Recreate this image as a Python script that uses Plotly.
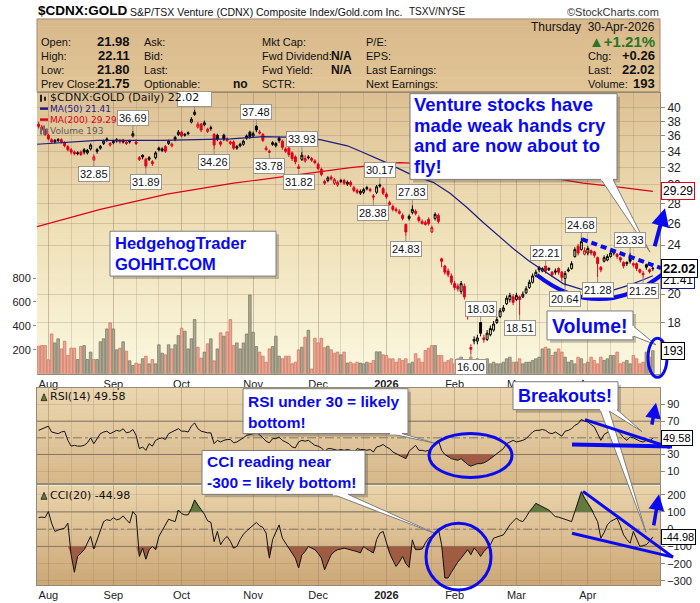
import math
import numpy as np
import plotly.graph_objects as go

W, H = 700, 603

# ---------------------------------------------------------------- data
month_pos = [3, 23, 44, 66, 86, 107, 128, 147, 169]
month_txt = ["Aug", "Sep", "Oct", "Nov", "Dec", "<b>2026</b>", "Feb", "Mar", "Apr"]
minor_pos = [10, 17, 30, 37, 51, 58, 73, 80, 93, 100, 114, 121, 135, 142, 154, 161, 176, 183]

opens = [
    37.6, 37.2, 36.8, 36.1, 35.5, 35.2, 35.4, 35.5, 35.1, 34.6,
    34.2, 33.9, 33.7, 33.9, 34.2, 33.8, 34.3, 32.9, 34.2, 34.4,
    35.0, 35.4, 34.8, 35.1, 35.3, 35.4, 35.2, 35.2, 35.2, 36.0,
    35.2, 33.2, 33.5, 33.0, 33.0, 32.7, 33.2, 34.4, 34.1, 34.6,
    35.0, 34.7, 35.5, 36.2, 36.5, 36.2, 36.3, 37.9, 39.0, 37.2,
    37.6, 37.5, 36.6, 37.0, 36.2, 36.1, 35.2, 36.1, 35.6, 35.0,
    35.2, 34.4, 34.7, 34.9, 36.0, 36.5, 36.0, 37.3, 36.5, 36.2,
    34.2, 34.0, 35.1, 34.7, 35.7, 35.3, 34.3, 34.4, 33.8, 33.3,
    31.9, 33.0, 32.8, 33.3, 33.1, 32.8, 32.4, 31.8, 30.4, 30.5,
    30.9, 30.2, 30.0, 30.5, 30.5, 30.1, 30.3, 29.7, 29.4, 29.1,
    29.2, 29.7, 29.5, 28.8, 29.2, 30.0, 29.6, 29.0, 27.9, 27.7,
    27.4, 27.0, 26.8, 25.9, 26.5, 27.1, 27.2, 26.6, 26.0, 25.9,
    26.4, 25.2, 26.5, 26.8, 22.8, 22.2, 21.8, 21.4, 20.8, 20.6,
    20.2, 20.6, 18.8, 16.4, 16.8, 16.8, 18.0, 17.0, 16.9, 17.2,
    17.5, 18.0, 18.4, 18.8, 19.3, 19.6, 19.8, 19.6, 19.8, 19.8,
    20.1, 20.5, 20.9, 21.4, 22.1, 21.8, 22.2, 21.9, 21.7, 21.7,
    22.0, 21.7, 21.2, 21.8, 22.0, 23.0, 23.9, 23.6, 23.2, 23.3,
    23.5, 23.4, 22.9, 22.1, 22.6, 22.7, 23.0, 23.3, 23.2, 22.9,
    22.5, 22.5, 23.1, 22.4, 22.4, 21.9, 21.5, 22.3, 21.9, 21.98,
]
highs = [
    37.9, 37.5, 37.0, 36.3, 35.7, 35.6, 35.7, 35.7, 35.3, 34.8,
    34.4, 34.1, 34.0, 34.1, 34.4, 34.3, 35.0, 33.6, 34.4, 34.8,
    35.5, 35.8, 35.2, 35.5, 35.7, 35.6, 35.6, 35.4, 35.5, 36.69,
    35.5, 33.4, 33.6, 33.2, 33.4, 32.9, 34.0, 34.6, 34.5, 34.8,
    35.5, 35.1, 36.0, 36.8, 36.7, 36.4, 36.6, 38.6, 39.7, 37.9,
    37.8, 38.1, 37.1, 37.4, 36.4, 36.3, 35.4, 36.3, 35.8, 35.4,
    35.4, 34.8, 35.1, 35.5, 36.2, 36.7, 36.6, 37.48, 36.8, 36.4,
    34.7, 34.2, 35.3, 35.2, 35.9, 35.5, 34.5, 34.6, 34.0, 33.5,
    32.4, 33.93, 33.5, 33.5, 33.3, 33.0, 32.6, 32.0, 30.6, 31.0,
    31.1, 30.8, 30.5, 30.7, 30.7, 30.5, 30.5, 29.9, 29.6, 29.5,
    29.7, 29.9, 29.7, 29.0, 30.0, 30.17, 29.8, 29.2, 28.3, 27.9,
    27.6, 27.4, 27.0, 26.0, 26.9, 27.83, 27.4, 26.8, 26.4, 26.3,
    26.6, 25.8, 27.1, 27.0, 22.9, 22.3, 22.0, 21.6, 21.0, 20.8,
    21.0, 20.8, 19.0, 16.6, 17.1, 17.2, 18.03, 17.2, 17.5, 17.8,
    18.1, 18.4, 19.0, 19.2, 19.9, 20.1, 20.0, 20.1, 19.9, 20.2,
    20.6, 21.1, 21.6, 21.9, 22.2, 22.1, 22.21, 22.1, 21.8, 22.0,
    22.1, 21.8, 21.8, 22.1, 22.6, 23.8, 24.1, 24.68, 23.8, 23.9,
    23.6, 23.5, 23.0, 22.2, 23.1, 23.2, 23.5, 23.6, 23.3, 23.0,
    22.6, 22.6, 23.33, 22.5, 22.5, 22.0, 21.8, 22.4, 22.0, 22.11,
]
lows = [
    37.0, 36.7, 36.0, 35.4, 35.0, 35.0, 35.2, 35.0, 34.5, 34.0,
    33.6, 33.5, 33.5, 33.4, 33.6, 33.6, 34.1, 32.85, 33.7, 34.2,
    34.8, 35.2, 34.6, 34.9, 35.1, 35.0, 35.0, 34.8, 35.0, 35.8,
    34.8, 32.8, 33.0, 31.89, 32.8, 32.2, 33.0, 34.0, 33.9, 33.8,
    34.8, 34.5, 35.3, 36.0, 35.8, 35.9, 36.1, 37.7, 38.8, 37.0,
    36.5, 37.3, 36.4, 36.7, 34.26, 35.3, 34.6, 35.3, 35.2, 34.8,
    34.2, 34.2, 34.5, 34.7, 35.5, 35.6, 35.8, 36.5, 36.2, 35.2,
    34.1, 33.78, 34.7, 34.5, 35.1, 34.2, 33.8, 33.3, 32.8, 32.4,
    31.82, 32.8, 32.6, 33.0, 32.7, 32.4, 31.7, 31.0, 30.0, 30.3,
    30.5, 30.0, 29.8, 30.2, 30.0, 29.9, 29.8, 29.2, 29.0, 28.9,
    29.0, 29.4, 29.2, 28.38, 29.0, 29.7, 28.9, 28.5, 27.8, 27.2,
    27.1, 26.9, 26.3, 24.83, 26.3, 26.9, 26.8, 26.1, 25.9, 25.8,
    25.8, 25.1, 26.3, 26.0, 22.1, 21.5, 21.3, 20.7, 20.3, 20.2,
    20.0, 19.6, 18.2, 16.00, 16.6, 16.6, 17.1, 16.7, 16.8, 17.1,
    17.4, 17.9, 18.3, 18.7, 19.2, 19.4, 19.2, 19.5, 18.51, 19.7,
    20.0, 20.4, 20.8, 21.3, 21.7, 21.7, 21.6, 21.8, 21.3, 21.5,
    21.5, 21.0, 20.64, 21.7, 21.9, 22.9, 23.1, 23.5, 23.1, 23.1,
    23.1, 22.9, 21.28, 21.7, 22.5, 22.6, 22.9, 23.1, 22.8, 22.5,
    22.0, 22.2, 22.4, 22.1, 21.8, 21.6, 21.25, 21.9, 21.6, 21.80,
]
closes = [
    37.3, 36.9, 36.2, 35.6, 35.2, 35.4, 35.5, 35.2, 34.7, 34.2,
    33.9, 33.7, 33.8, 33.6, 33.9, 34.1, 34.8, 33.3, 34.0, 34.6,
    35.3, 35.6, 35.0, 35.3, 35.5, 35.2, 35.4, 35.0, 35.3, 36.3,
    35.0, 33.0, 33.3, 32.2, 33.2, 32.5, 33.8, 34.2, 34.3, 34.0,
    35.3, 34.9, 35.8, 36.5, 36.0, 36.1, 36.4, 38.3, 39.3, 37.6,
    36.8, 37.8, 36.9, 37.1, 34.8, 35.6, 34.9, 35.6, 35.4, 35.2,
    34.4, 34.6, 34.9, 35.3, 35.7, 35.9, 36.3, 36.8, 36.4, 35.4,
    34.4, 33.9, 34.9, 35.0, 35.4, 34.5, 34.0, 33.6, 33.1, 32.7,
    32.1, 33.5, 33.1, 33.2, 32.9, 32.6, 31.9, 31.2, 30.2, 30.8,
    30.7, 30.6, 30.3, 30.4, 30.2, 30.3, 30.0, 29.4, 29.2, 29.3,
    29.5, 29.6, 29.4, 28.7, 29.8, 29.9, 29.1, 28.7, 28.1, 27.4,
    27.3, 27.2, 26.5, 25.2, 26.7, 27.4, 27.0, 26.3, 26.2, 26.1,
    26.0, 25.6, 26.9, 26.2, 22.6, 21.7, 21.5, 20.9, 20.5, 20.4,
    20.8, 19.8, 18.4, 16.3, 16.9, 17.0, 17.3, 16.9, 17.3, 17.6,
    17.9, 18.2, 18.8, 19.0, 19.7, 19.9, 19.4, 19.9, 19.6, 20.0,
    20.4, 20.9, 21.4, 21.7, 21.9, 22.0, 21.8, 22.0, 21.5, 21.8,
    21.7, 21.3, 21.6, 21.9, 22.4, 23.6, 23.3, 24.3, 23.5, 23.7,
    23.3, 23.1, 22.4, 21.9, 22.9, 23.0, 23.3, 23.4, 23.0, 22.7,
    22.2, 22.4, 22.6, 22.3, 22.0, 21.7, 21.6, 22.1, 21.75, 22.02,
]
volumes = [
    230, 236, 236, 117, 333, 258, 292, 208, 272, 153,
    214, 214, 119, 228, 236, 119, 181, 119, 119, 267,
    292, 375, 425, 375, 200, 214, 267, 189, 108, 69,
    89, 81, 125, 147, 83, 119, 83, 242, 172, 158,
    242, 208, 242, 319, 381, 356, 208, 292, 453, 222,
    131, 181, 250, 292, 108, 208, 342, 314, 350, 453,
    236, 258, 208, 258, 333, 658, 347, 228, 181, 147,
    97, 208, 228, 314, 147, 125, 147, 147, 83, 97,
    200, 222, 306, 364, 40, 297, 258, 297, 217, 231,
    200, 172, 181, 158, 181, 89, 97, 83, 97, 89,
    83, 97, 89, 111, 183, 183, 158, 153, 125, 125,
    97, 125, 111, 125, 83, 97, 167, 125, 97, 194,
    214, 236, 236, 153, 153, 97, 111, 125, 83, 125,
    139, 111, 97, 139, 111, 125, 83, 97, 125, 83,
    97, 83, 83, 97, 125, 139, 97, 97, 125, 83,
    97, 97, 111, 125, 139, 208, 222, 208, 153, 181,
    208, 181, 139, 97, 111, 83, 139, 125, 83, 97,
    139, 111, 83, 139, 111, 125, 153, 153, 181, 83,
    97, 111, 83, 153, 125, 83, 97, 181, 139, 193,
]
rsi = [
    59, 61, 63, 64, 57, 56, 55, 57, 58, 47,
    40, 41, 40, 40, 41, 44, 50, 43, 49, 55,
    57, 58, 55, 57, 59, 58, 61, 56, 57, 60,
    53, 37, 39, 35, 43, 40, 47, 49, 50, 48,
    55, 57, 59, 61, 58, 58, 57, 64, 68, 61,
    58, 57, 56, 56, 43, 47, 45, 47, 48, 48,
    44, 45, 47, 50, 53, 54, 55, 57, 54, 50,
    46, 44, 49, 49, 51, 47, 45, 43, 39, 38,
    45, 47, 46, 47, 44, 41, 40, 38, 34, 37,
    37, 36, 35, 36, 35, 36, 35, 33, 37, 36,
    36, 35, 36, 33, 39, 40, 42, 39, 37, 33,
    31, 30, 28, 25, 34, 38, 41, 35, 35, 34,
    35, 39, 44, 47, 35, 30, 27, 25, 24, 23,
    25, 21, 18, 16, 18, 19, 19, 20, 22, 25,
    28, 30, 34, 37, 43, 45, 47, 45, 46, 47,
    49, 53, 57, 59, 59, 60, 59, 56, 55, 57,
    55, 52, 58, 59, 61, 65, 67, 72, 70, 69,
    66, 63, 55, 47, 54, 57, 59, 61, 59, 55,
    50, 47, 51, 50, 48, 46, 45, 47, 46, 49.58,
]
cci = [
    67, 70, 67, 102, 35, -13, -5, 0, 6, 35,
    -148, -250, -158, -140, -119, -80, -42, -114, -60, -13,
    44, 55, 50, 67, 54, 60, 77, 55, 35, 102,
    80, -158, -110, -174, -120, -100, -119, -42, -10, 20,
    58, 50, 44, 111, 90, 83, 83, 120, 170, 140,
    110, 87, 48, 40, -72, -13, -90, -60, -42, -70,
    -110, -100, -60, -30, -10, 6, 25, 39, 20, 10,
    -23, -168, -60, -13, 25, -52, -80, -110, -140, -168,
    -225, -150, -129, -100, -110, -119, -140, -168, -235, -190,
    -148, -130, -119, -115, -110, -115, -119, -125, -130, -138,
    -100, -115, -125, -138, -60, -23, -13, -80, -138, -180,
    -216, -190, -158, -200, -222, -62, -119, -118, -115, -80,
    -52, -40, -33, 2, -90, -283, -283, -250, -216, -190,
    -168, -140, -119, -148, -110, -130, -158, -130, -110, -90,
    -52, -45, -40, -33, -5, 25, 45, 64, 50, 44,
    70, 102, 125, 150, 140, 131, 120, 111, 90, 73,
    70, 64, 55, 50, 44, 102, 160, 218, 180, 150,
    121, 80, 44, -52, -20, 25, 45, 55, 64, 20,
    -33, -60, -81, -13, -60, -100, -95, -90, -70, -44.98,
]
ma50_idx = [-0.5, 18, 38, 59, 69, 79.5, 86.6, 95, 99, 107, 114, 121.4, 126.6, 131.8,
            136.8, 141, 146, 151, 156.5, 161.4, 166.6, 171.8, 176.8, 182, 186, 189]
ma50_val = [34.9, 35.4, 35.4, 35.6, 35.9, 35.8, 35.5, 34.7, 34.0, 32.6, 31.3, 30.3, 29.1, 27.6,
            26.1, 25.0, 23.7, 22.6, 21.6, 20.8, 20.4, 20.2, 20.3, 20.7, 21.1, 21.41]
ma200_idx = [-0.5, 19, 39.5, 60, 80.5, 96, 111, 130, 150, 167.5, 178, 189]
ma200_val = [25.7, 27.4, 29.0, 30.2, 31.2, 32.0, 32.6, 32.3, 31.3, 30.2, 29.8, 29.29]

lab_idx = [29, 17, 33, 54, 67, 71, 81, 80, 105, 103, 115, 113, 136, 133, 148, 156, 162, 167, 172, 182, 186]
lab_val = [36.69, 32.85, 31.89, 34.26, 37.48, 33.78, 33.93, 31.82, 30.17, 28.38, 27.83, 24.83,
           18.03, 16.00, 18.51, 22.21, 20.64, 24.68, 21.28, 23.33, 21.25]
lab_hi = [1, 0, 0, 0, 1, 0, 1, 0, 1, 0, 1, 0, 1, 0, 0, 1, 0, 1, 0, 1, 0]

# visible tick labels (16, 22 and 50 sit behind value boxes in the reference)
price_ticks = [18, 20, 24, 26, 28, 30, 32, 34, 36, 38, 40]
rsi_ticks = [10, 30, 70, 90]
cci_ticks = [-300, -200, -100, 0, 100, 200]

# ---------------------------------------------------------------- styling
ARIAL = "Liberation Sans, Arial, sans-serif"
VERD = "DejaVu Sans, Verdana, sans-serif"
BLUE = "#0a0af0"
RED = "#e0001b"
NAVY = "#1c1c8a"
BORDER = "rgb(150,138,120)"
GRID_MAJ = "rgba(150,125,95,0.45)"
GRID_MIN = "rgba(150,125,95,0.25)"
GREYLINE = "rgb(125,125,125)"

PX0, PX1 = 37, 660
MAIN_T, MAIN_B = 93, 375
RSI_T, RSI_B = 389, 485
CCI_T, CCI_B = 487, 587


def fx(px):
    return px / W


def fy(py):
    return 1 - py / H


shapes = []
annotations = []


def gradient(x0, x1, y0, y1, stops, nb):
    h = (y1 - y0) / nb
    for i in range(nb):
        f = (i + 0.5) / nb
        c = stops[-1][1]
        for (f0, c0), (f1, c1) in zip(stops[:-1], stops[1:]):
            if f0 <= f <= f1:
                t = (f - f0) / (f1 - f0)
                c = tuple(int(round(a + (b - a) * t)) for a, b in zip(c0, c1))
                break
        shapes.append(dict(type="rect", xref="paper", yref="paper", layer="below",
                           x0=fx(x0), x1=fx(x1), y0=fy(min(y0 + (i + 1) * h + 0.6, y1)),
                           y1=fy(y0 + i * h), fillcolor="rgb(%d,%d,%d)" % c,
                           line=dict(width=0)))


def rect(x0, y0, x1, y1, fill, line=None, lw=0, layer="above"):
    shapes.append(dict(type="rect", xref="paper", yref="paper", layer=layer,
                       x0=fx(x0), x1=fx(x1), y0=fy(y1), y1=fy(y0), fillcolor=fill,
                       line=dict(color=line or "rgba(0,0,0,0)", width=lw)))


def seg(x0, y0, x1, y1, color, width, dash=None):
    d = dict(type="line", xref="paper", yref="paper", layer="above",
             x0=fx(x0), x1=fx(x1), y0=fy(y0), y1=fy(y1),
             line=dict(color=color, width=width))
    if dash:
        d["line"]["dash"] = dash
    shapes.append(d)


def poly(pts, fill, line_color, lw=1):
    d = "M " + " L ".join("%.5f,%.5f" % (fx(x), fy(y)) for x, y in pts) + " Z"
    shapes.append(dict(type="path", xref="paper", yref="paper", layer="above", path=d,
                       fillcolor=fill, line=dict(color=line_color, width=lw)))


def qcurve(p0, c, p1, color, width):
    d = "M %.5f,%.5f Q %.5f,%.5f %.5f,%.5f" % (fx(p0[0]), fy(p0[1]), fx(c[0]), fy(c[1]),
                                             fx(p1[0]), fy(p1[1]))
    shapes.append(dict(type="path", xref="paper", yref="paper", layer="above", path=d,
                       fillcolor="rgba(0,0,0,0)", line=dict(color=color, width=width)))


def ellipse(cx, cy, rx, ry, color, width):
    shapes.append(dict(type="circle", xref="paper", yref="paper", layer="above",
                       x0=fx(cx - rx), x1=fx(cx + rx), y0=fy(cy + ry), y1=fy(cy - ry),
                       line=dict(color=color, width=width)))


def txt(x, y, s, size=12, color="#000", bold=False, family=ARIAL, xanchor="left",
        yanchor="middle"):
    annotations.append(dict(xref="paper", yref="paper", x=fx(x), y=fy(y),
                            text=("<b>%s</b>" % s) if bold else s, showarrow=False,
                            xanchor=xanchor, yanchor=yanchor, borderpad=0,
                            font=dict(size=size, color=color, family=family)))


def arrow(xt, yt, xh, yh, width=4):
    annotations.append(dict(xref="paper", yref="paper", x=fx(xh), y=fy(yh),
                            ax=xt - xh, ay=yt - yh, axref="pixel", ayref="pixel",
                            showarrow=True, arrowhead=2, arrowsize=0.9, arrowwidth=width,
                            arrowcolor=BLUE, text=" ", standoff=0))


def callout(x0, y0, x1, y1, tails):
    rect(x0 + 3, y0 + 3, x1 + 3, y1 + 3, "rgba(60,50,40,0.28)")
    for base_a, base_b, tip in tails:
        poly([base_a, tip, base_b], "white", GREYLINE, 1)
    rect(x0, y0, x1, y1, "white", GREYLINE, 1)
    for base_a, base_b, tip in tails:
        seg(base_a[0], base_a[1], base_b[0], base_b[1], "white", 2)


# ---------------------------------------------------------------- backgrounds
gradient(PX0, PX1, 19, 92, [(0, (216, 184, 138)), (1, (226, 198, 152))], 10)
gradient(PX0, PX1, MAIN_T, MAIN_B, [(0, (221, 192, 148)), (0.45, (238, 222, 181)),
                                    (1, (251, 248, 224))], 48)
gradient(PX0, PX1, RSI_T, RSI_B, [(0, (236, 214, 176)), (1, (214, 183, 137))], 18)
gradient(PX0, PX1, CCI_T, CCI_B, [(0, (234, 212, 172)), (1, (204, 167, 118))], 18)
rect(PX0, 19, PX1, 92, "rgba(0,0,0,0)", "rgb(165,140,110)", 1, layer="below")

for lv, dash in [(70, "solid"), (30, "solid"), (50, "dashdot")]:
    shapes.append(dict(type="line", xref="paper", yref="y3", x0=fx(PX0), x1=fx(PX1), y0=lv, y1=lv,
                       line=dict(color="rgb(125,118,108)", width=1, dash=dash), layer="below"))
for lv, dash in [(100, "solid"), (-100, "solid"), (0, "dashdot")]:
    shapes.append(dict(type="line", xref="paper", yref="y4", x0=fx(PX0), x1=fx(PX1), y0=lv, y1=lv,
                       line=dict(color="rgb(125,118,108)", width=1, dash=dash), layer="below"))

# ---------------------------------------------------------------- traces
n = len(closes)
xs = list(range(n))
up = [False] + [closes[i] >= closes[i - 1] for i in range(1, n)]

vol_fill = ["rgb(172,168,146)" if u else "rgb(233,168,148)" for u in up]
vol_line = ["rgb(118,114,98)" if u else "rgb(208,112,92)" for u in up]

traces = []
traces.append(go.Bar(x=xs, y=volumes, xaxis="x", yaxis="y", width=0.8,
                     marker=dict(color=vol_fill, line=dict(color=vol_line, width=0.7)),
                     hoverinfo="skip", showlegend=False))
traces.append(go.Scatter(x=ma200_idx, y=ma200_val, xaxis="x", yaxis="y2", mode="lines",
                         line=dict(color=RED, width=1.2), hoverinfo="skip", showlegend=False))
traces.append(go.Scatter(x=ma50_idx, y=ma50_val, xaxis="x", yaxis="y2", mode="lines",
                         line=dict(color=NAVY, width=1.2), hoverinfo="skip", showlegend=False))


def candle_group(flag, color):
    sel = [i for i in range(n) if up[i] == flag]
    return go.Candlestick(
        x=[xs[i] for i in sel], open=[opens[i] for i in sel], high=[highs[i] for i in sel],
        low=[lows[i] for i in sel], close=[closes[i] for i in sel], xaxis="x", yaxis="y2",
        increasing=dict(line=dict(color=color, width=1), fillcolor="rgba(0,0,0,0)"),
        decreasing=dict(line=dict(color=color, width=1), fillcolor=color),
        whiskerwidth=0, hoverinfo="skip", showlegend=False)


traces.append(candle_group(True, "#000000"))
traces.append(candle_group(False, RED))

rsi_a = np.array(rsi, dtype=float)
cci_a = np.array(cci, dtype=float)
BROWN = "rgb(160,92,66)"
GREEN = "rgb(100,122,62)"


def band(xa, ya, base, clipped, color):
    traces.append(go.Scatter(x=xs, y=[base] * n, xaxis=xa, yaxis=ya, mode="lines",
                             line=dict(width=0), hoverinfo="skip", showlegend=False))
    traces.append(go.Scatter(x=xs, y=clipped, xaxis=xa, yaxis=ya, mode="lines",
                             line=dict(width=0), fill="tonexty", fillcolor=color,
                             hoverinfo="skip", showlegend=False))


band("x2", "y3", 30, np.minimum(rsi_a, 30), BROWN)
band("x2", "y3", 70, np.maximum(rsi_a, 70), GREEN)
traces.append(go.Scatter(x=xs, y=rsi, xaxis="x2", yaxis="y3", mode="lines",
                         line=dict(color="#111", width=1), hoverinfo="skip", showlegend=False))
band("x3", "y4", -100, np.minimum(cci_a, -100), BROWN)
band("x3", "y4", 100, np.maximum(cci_a, 100), GREEN)
traces.append(go.Scatter(x=xs, y=cci, xaxis="x3", yaxis="y4", mode="lines",
                         line=dict(color="#111", width=1), hoverinfo="skip", showlegend=False))

fig = go.Figure(data=traces)

# ---------------------------------------------------------------- price labels
for i, v, hi in zip(lab_idx, lab_val, lab_hi):
    annotations.append(dict(xref="x", yref="y2", x=i, y=math.log10(v), text="%.2f" % v,
                            showarrow=True, arrowhead=0, arrowwidth=1, arrowcolor="rgb(150,140,130)",
                            ax=0, ay=(-13 if hi else 13), standoff=0, bgcolor="white",
                            bordercolor="rgb(160,150,140)", borderwidth=1, borderpad=1,
                            font=dict(size=11, color="#111", family=ARIAL)))
# label box of the October high, sitting behind the legend text in the reference
annotations.append(dict(xref="x", yref="y2", x=48, y=math.log10(39.7),
                        text="&nbsp;" * 10,
                        showarrow=True, arrowhead=0, arrowwidth=1, arrowcolor="rgb(150,140,130)",
                        ax=0, ay=-11, standoff=0, bgcolor="white", bordercolor="rgb(160,150,140)",
                        borderwidth=1, borderpad=1, font=dict(size=11, color="white", family=ARIAL)))

# ---------------------------------------------------------------- legends in panels
rect(40, 95, 42, 102, "#222")
rect(44, 97, 46, 101, "#222")
txt(49, 98, "$CDNX:GOLD (Daily) 22.02", 11, "#111", family=VERD)
seg(40, 109, 48, 109, NAVY, 2.5)
txt(49, 109, "MA(50) 21.41", 9, NAVY, family=VERD)
seg(40, 120, 48, 120, RED, 2.5)
txt(49, 120, "MA(200) 29.29", 9, RED, family=VERD)
rect(40, 128, 42, 135, "rgb(110,110,110)")
rect(43, 126, 45, 135, "rgb(110,110,110)")
rect(46, 129, 48, 135, "rgb(110,110,110)")
txt(49, 131, "Volume 193", 9, "rgb(90,90,90)", family=VERD)

poly([(41, 402), (44, 395), (47, 402)], GREEN, "#222", 0.8)
txt(49, 398, "RSI(14) 49.58", 11, "#111", family=VERD)
poly([(41, 501), (44, 494), (47, 501)], GREEN, "#222", 0.8)
txt(49, 497, "CCI(20) -44.98", 11, "#111", family=VERD)

# ---------------------------------------------------------------- header
txt(37, 11, "$CDNX:GOLD", 13.5, "#000", bold=True)
txt(129, 12, "S&P/TSX Venture (CDNX) Composite Index/Gold.com Inc.", 10.5, "#111")
txt(408, 12, "TSXV/NYSE", 10, "#111")
txt(660, 12, "©StockCharts.com", 11, "#333", xanchor="right")
txt(656, 27, "Thursday  30-Apr-2026", 12, "#111", xanchor="right")

rows_y = [42, 56, 70, 84]
col1_lbl = ["Open:", "High:", "Low:", "Prev Close:"]
col1_val = ["21.98", "22.11", "21.80", "21.75"]
col2_lbl = ["Ask:", "Bid:", "Last:", "Optionable:"]
col3_lbl = ["Mkt Cap:", "Fwd Dividend:", "Fwd Yield:", "SCTR:"]
col3_val = ["", "N/A", "N/A", ""]
col4_lbl = ["P/E:", "EPS:", "Last Earnings:", "Next Earnings:"]
col5_lbl = ["", "Chg:", "Last:", "Volume:"]
col5_val = ["", "+0.26", "22.02", "193"]
for k, y in enumerate(rows_y):
    txt(40, y, col1_lbl[k], 11, "#111")
    txt(131, y, col1_val[k], 13, "#111", bold=True, xanchor="right")
    txt(143, y, col2_lbl[k], 11, "#111")
    txt(261, y, col3_lbl[k], 11, "#111")
    if col3_val[k]:
        txt(353, y, col3_val[k], 12, "#111", bold=True, xanchor="right")
    txt(365, y, col4_lbl[k], 11, "#111")
    if col5_lbl[k]:
        txt(587, y, col5_lbl[k], 11, "#111")
        txt(656, y, col5_val[k], 13, "#111", bold=True, xanchor="right")
txt(249, 84, "no", 12, "#111", bold=True, xanchor="right")
txt(656, 42, "▲+1.21%", 15, "rgb(40,118,40)", bold=True, xanchor="right")


# ---------------------------------------------------------------- right-hand value labels
def side_label(yref, yv, s, border, bold=False, size=12, yshift=0):
    annotations.append(dict(xref="paper", yref=yref, x=fx(661), y=yv, text=("<b>%s</b>" % s) if bold else s,
                            showarrow=False, xanchor="left", yanchor="middle", yshift=yshift,
                            bgcolor="white", bordercolor=border, borderwidth=1, borderpad=1,
                            font=dict(size=size, color="#000", family=ARIAL)))


side_label("y2", math.log10(29.29), "29.29", RED)
side_label("y2", math.log10(21.41), "21.41", NAVY, yshift=-4)
side_label("y2", math.log10(22.02), "22.02", "#000", bold=True, size=13)
side_label("y", 193, "193", "#000")
side_label("y3", 49.58, "49.58", "#000", size=11)
side_label("y4", -44.98, "-44.98", "#000", size=11)

# ---------------------------------------------------------------- callouts
callout(410, 94, 617, 180, [((601, 180), (613, 180), (650, 253))])
for yy, s in zip([105, 126, 146, 167], ["Venture stocks have", "made weak hands cry",
                                         "and are now about to", "fly!"]):
    txt(413, yy, s, 18.5, BLUE, bold=True)

callout(110, 232, 276, 277, [])
txt(114, 244, "HedgehogTrader", 16.5, BLUE, bold=True)
txt(114, 265, "GOHHT.COM", 16.5, BLUE, bold=True)

callout(547, 312, 633, 341, [((633, 327), (633, 337), (656, 346))])
txt(551, 327, "Volume!", 19.5, BLUE, bold=True)

callout(243, 390, 408, 435, [((390, 435), (402, 435), (436, 445))])
txt(247, 403, "RSI under 30 = likely", 15.5, BLUE, bold=True)
txt(247, 424, "bottom!", 15.5, BLUE, bold=True)

callout(202, 452, 365, 496, [((333, 496), (348, 496), (437, 536))])
txt(206, 463, "CCI reading near", 15.5, BLUE, bold=True)
txt(206, 484, "-300 = likely bottom!", 15.5, BLUE, bold=True)

callout(513, 383, 618, 411, [((600, 411), (609, 411), (646, 534)),
                             ((607, 411), (617, 411), (642, 433))])
txt(517, 397, "Breakouts!", 18, BLUE, bold=True)

# ---------------------------------------------------------------- hand-drawn blue marks
seg(582, 240, 661, 269, BLUE, 4, dash="6px,4px")
qcurve((537, 276), (600, 325), (664, 274), BLUE, 4)
ellipse(657.5, 359, 9.5, 19.5, BLUE, 3)
ellipse(470.5, 457, 41.5, 22, BLUE, 3)
seg(585, 421, 670, 449, BLUE, 3)
seg(572, 446, 672, 448, BLUE, 4)
ellipse(458.5, 558.5, 32.5, 33.5, BLUE, 3)
seg(583, 493, 673, 559, BLUE, 3)
seg(572, 535, 673, 559, BLUE, 3)
arrow(652, 257, 665, 209, 4)
arrow(650, 436, 656, 404, 3.5)
arrow(652, 537, 659, 496, 3.5)

# ---------------------------------------------------------------- layout
xdom = [fx(PX0), fx(PX1)]
main_dom = [fy(MAIN_B), fy(MAIN_T)]
rsi_dom = [fy(RSI_B), fy(RSI_T)]
cci_dom = [fy(CCI_B), fy(CCI_T)]
xr = [-0.5, 191.2]
tickf = dict(size=11, color="#222", family=ARIAL)

common_x = dict(range=xr, showgrid=True, gridcolor=GRID_MAJ, gridwidth=1, zeroline=False,
                tickvals=month_pos, ticktext=month_txt, ticks="", showline=True, mirror=True,
                linecolor=BORDER, linewidth=1, tickfont=tickf,
                minor=dict(tickvals=minor_pos, showgrid=True, gridcolor=GRID_MIN, gridwidth=1))

fig.update_layout(
    width=W, height=H, margin=dict(l=0, r=0, t=0, b=0),
    paper_bgcolor="white", plot_bgcolor="rgba(0,0,0,0)", showlegend=False,
    boxgap=0.15, bargap=0.2,
    xaxis=dict(domain=xdom, anchor="y", rangeslider=dict(visible=False), **common_x),
    yaxis=dict(domain=main_dom, anchor="x", side="left", range=[0, 2350],
               tickvals=[200, 400, 600, 800], showgrid=False, zeroline=False,
               ticks="outside", ticklen=3, tickcolor=BORDER, tickfont=dict(size=11, color="#222", family=ARIAL),
               showline=False),
    yaxis2=dict(overlaying="y", anchor="x", side="right", type="log",
                range=[math.log10(14.88), math.log10(42.27)], tickvals=price_ticks,
                ticktext=[str(t) for t in price_ticks], showgrid=True, gridcolor="rgba(150,125,95,0.30)",
                zeroline=False, ticks="outside", ticklen=4, tickcolor=BORDER, showline=True,
                linecolor=BORDER, tickfont=dict(size=12, color="#222", family=ARIAL)),
    xaxis2=dict(domain=xdom, anchor="y3", matches="x", showticklabels=False,
                **{k: v for k, v in common_x.items() if k not in ("tickfont",)}),
    yaxis3=dict(domain=rsi_dom, anchor="x2", side="right", range=[-4.7, 110.2],
                tickvals=rsi_ticks, showgrid=True, gridcolor="rgba(150,125,95,0.25)",
                zeroline=False, ticks="outside", ticklen=4, tickcolor=BORDER, showline=True,
                mirror=True, linecolor=BORDER, tickfont=tickf),
    xaxis3=dict(domain=xdom, anchor="y4", matches="x", rangeslider=dict(visible=False), **common_x),
    yaxis4=dict(domain=cci_dom, anchor="x3", side="right", range=[-324, 254],
                tickvals=cci_ticks, showgrid=True,
                gridcolor="rgba(150,125,95,0.25)", zeroline=False, ticks="outside", ticklen=4,
                tickcolor=BORDER, showline=True, mirror=True, linecolor=BORDER, tickfont=tickf),
    shapes=shapes,
    annotations=annotations,
)

fig.write_html("out.html")
